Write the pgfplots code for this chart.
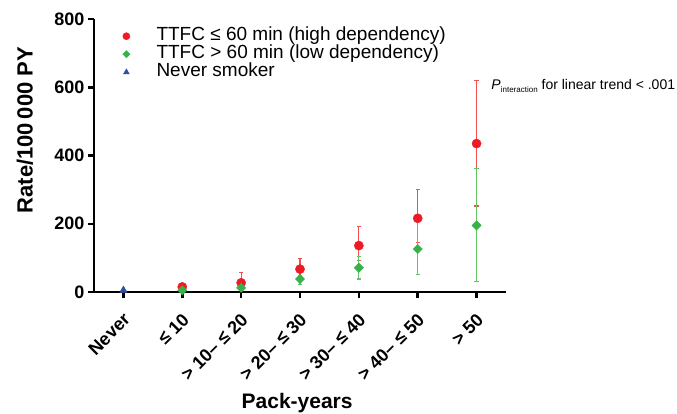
\documentclass[border=0pt]{standalone}
\usepackage{fontspec}
\setmainfont{Liberation Sans}
\usepackage{pgfplots}
\pgfplotsset{compat=1.18}

\definecolor{hired}{RGB}{237,28,36}
\definecolor{hiredbar}{RGB}{240,80,80}
\definecolor{logreen}{RGB}{55,178,74}
\definecolor{logreenbar}{RGB}{100,196,100}
\definecolor{neverblue}{RGB}{46,80,160}

% x, rate, error plus, error minus
\pgfplotstableread{
x y ep em
1 15 3 3
2 27 29 15
3 67 32 25
4 136 55 45
5 216 85 70
6 435 185 183
}\highdep
\pgfplotstableread{
x y ep em
1 5 2 2
2 12 5 5
3 38 9 16
4 71 33 33
5 126 80 76
6 195 167 165
}\lowdep

\begin{document}
\begin{tikzpicture}
\path[use as bounding box] (0,0) rectangle (677pt,-414pt);
\begin{axis}[
    at={(94pt,-292pt)}, anchor=south west,
    scale only axis, width=412pt, height=273pt,
    xmin=-0.5, xmax=6.5, ymin=0, ymax=800,
    clip=false,
    axis lines=left,
    axis line style={-, line width=2.5pt, black},
    tick align=outside,
    major tick length=6pt,
    tick style={line width=2.5pt, black},
    xtick={0,...,6},
    xticklabels={Never, ≤ 10, > 10– ≤ 20, > 20– ≤ 30, > 30– ≤ 40, > 40– ≤ 50, > 50},
    ytick={0,200,...,800},
    /pgf/number format/assume math mode=true,
    tick label style={font=\bfseries\fontsize{18}{18}\selectfont},
    xticklabel style={xshift=5pt, yshift=-17pt, rotate=45, anchor=east, inner sep=2pt},
    xlabel={Pack-years},
    ylabel={Rate/100\,000 PY},
    label style={font=\bfseries\fontsize{21}{21}\selectfont},
    xlabel style={at={(rel axis cs:0.493,0)}, yshift=-116pt, anchor=base},
    ylabel style={at={(rel axis cs:-0.1675,0.593)}, anchor=center, font=\bfseries\fontsize{22}{22}\selectfont},
    legend cell align=left,
    legend style={at={(rel axis cs:0.062,0.978)}, anchor=north west,
        draw=none, fill=none, font=\fontsize{19}{19}\selectfont,
        nodes={inner sep=0pt, text height=13pt, text depth=5pt},
        column sep=26.5pt, row sep=0pt},
    legend image code/.code={\draw[#1, every mark/.append style={scale=0.78}] plot coordinates {(0pt,0pt)};},
]
\addplot[only marks, mark=*, mark size=4.6pt, color=hired,
    error bars/.cd, y dir=both, y explicit,
    error bar style={line width=1.2pt, color=hiredbar},
    error mark options={rotate=90, mark size=2.1pt, line width=1.1pt, color=hiredbar}]
    table[x=x, y=y, y error plus=ep, y error minus=em] {\highdep};
\addlegendentry{TTFC ≤ 60 min (high dependency)}

\addplot[only marks, mark=square*, mark size=3.3pt, mark options={rotate=45}, color=logreen,
    error bars/.cd, y dir=both, y explicit,
    error bar style={line width=1.2pt, color=logreenbar},
    error mark options={rotate=90, mark size=2.1pt, line width=1.1pt, color=logreenbar}]
    table[x=x, y=y, y error plus=ep, y error minus=em] {\lowdep};
\addlegendentry{TTFC > 60 min (low dependency)}

\addplot[only marks, mark=triangle*, mark size=4.3pt, color=neverblue]
    coordinates {(0,5)};
\addlegendentry{Never smoker}

\node[anchor=base west, inner sep=0pt, font=\fontsize{14}{14}\selectfont]
    at (axis cs:6.25,592) {\textit{P}\raisebox{-2.5pt}{\fontsize{8}{8}\selectfont interaction} for linear trend < .001};
\end{axis}
\end{tikzpicture}
\end{document}
